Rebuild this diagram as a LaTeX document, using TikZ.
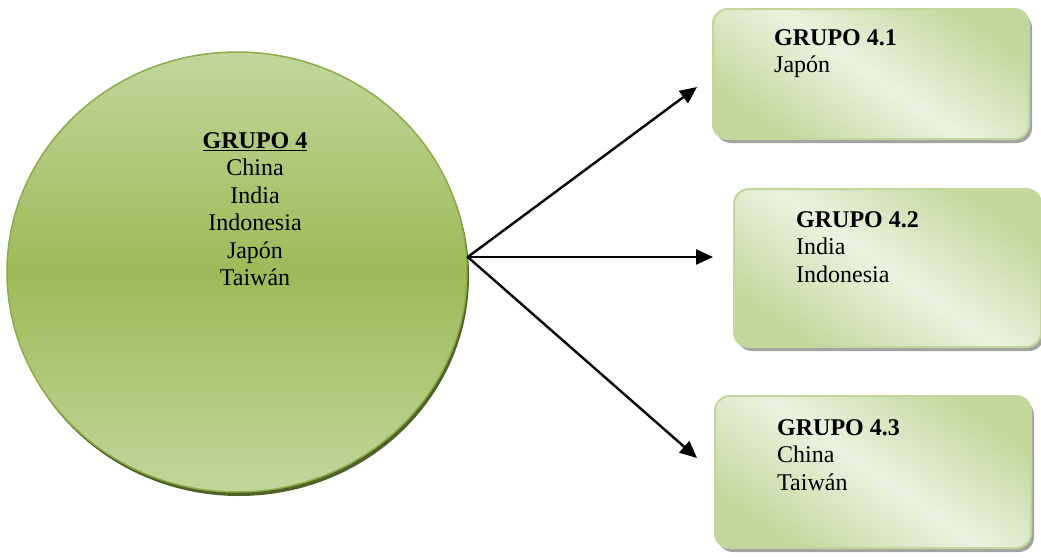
\documentclass[tikz,border=0pt]{standalone}
\usepackage{fontspec}
\setmainfont{Liberation Serif}
\usetikzlibrary{arrows.meta,shapes.geometric,shadows}
\definecolor{verdeclaro}{RGB}{195,214,155}
\definecolor{verdemedio}{RGB}{155,187,89}
\definecolor{verdeborde}{RGB}{140,172,74}
\definecolor{verdesombra}{RGB}{79,98,40}
\definecolor{verdepalido}{RGB}{236,242,224}
\tikzset{
  grupo/.style={draw=verdeborde,line width=1.5pt,ellipse,inner sep=0pt,
    top color=verdeclaro,bottom color=verdeclaro,middle color=verdemedio,
    minimum width=460pt,minimum height=440pt,
    drop shadow={shadow xshift=2pt,shadow yshift=-4pt,fill=verdesombra,opacity=1}},
  caja/.style={draw=verdeclaro,line width=2pt,rounded corners=15pt,inner sep=0pt,
    anchor=north west,top color=verdeclaro,bottom color=verdeclaro,
    middle color=verdepalido,shading angle=-35,
    drop shadow={shadow xshift=3pt,shadow yshift=-4pt,fill=black!45,opacity=.8}},
  texto/.style={inner sep=0pt,font=\fontsize{24}{27.5}\selectfont},
  flecha/.style={line width=2.4pt,-{Triangle[length=17pt,width=15pt]}}
}
\begin{document}
\begin{tikzpicture}[line cap=round,line join=round,x=1pt,y=-1pt]
\useasboundingbox (0,0) rectangle (1041,557);
% circulo del grupo 4
\node[grupo] (g4) at (237,272) {};
\node[texto,align=center,anchor=north] (t4) at (255,132)
  {\underline{\textbf{GRUPO 4}}\\China\\India\\Indonesia\\Japón\\Taiwán};
% cajas de los subgrupos
\node[caja,minimum width=316pt,minimum height=130pt] (b41) at (712,8) {};
\node[caja,minimum width=307pt,minimum height=158pt] (b42) at (733,188) {};
\node[caja,minimum width=316pt,minimum height=152pt] (b43) at (714,395) {};
\node[texto,align=left,anchor=north west] (t41) at (774,29) {\textbf{GRUPO 4.1}\\Japón};
\node[texto,align=left,anchor=north west] (t42) at (796,211) {\textbf{GRUPO 4.2}\\India\\Indonesia};
\node[texto,align=left,anchor=north west] (t43) at (777,419) {\textbf{GRUPO 4.3}\\China\\Taiwán};
% flechas
\coordinate (hub) at ([yshift=15pt]g4.east);
\coordinate (p41) at (697,87);
\coordinate (p42) at (713,257);
\coordinate (p43) at (697,458);
\draw[flecha] (hub) -- (p41);
\draw[flecha] (hub) -- (p42);
\draw[flecha] (hub) -- (p43);
\end{tikzpicture}
\end{document}
